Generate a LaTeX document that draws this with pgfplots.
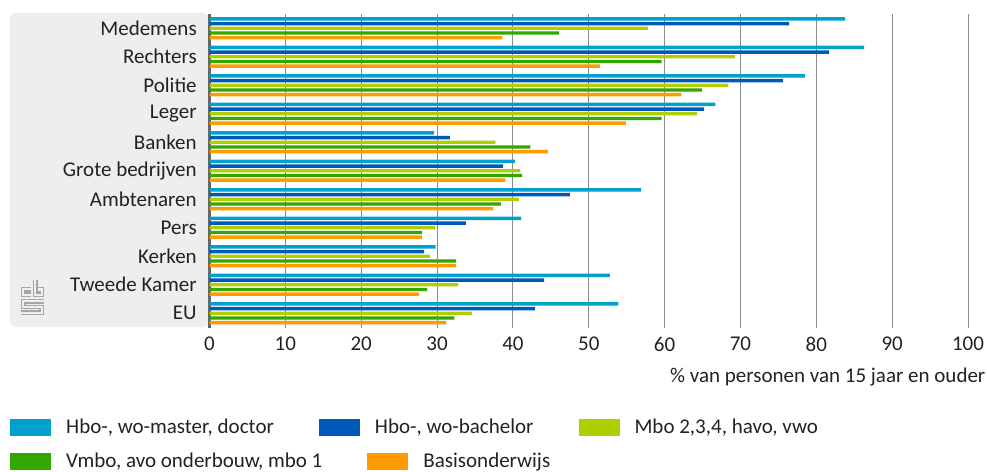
\documentclass[border=0pt]{standalone}
\usepackage{fontspec}
\setmainfont{Carlito}
\usepackage{pgfplots}
\usepackage{pgfplotstable}
\pgfplotsset{compat=1.18}
\definecolor{cmaster}{HTML}{00A1CD}
\definecolor{cbach}{HTML}{0058B8}
\definecolor{cmbo}{HTML}{AFCF00}
\definecolor{cvmbo}{HTML}{33A600}
\definecolor{cbasis}{HTML}{FF9B00}
\definecolor{ctext}{HTML}{222222}
\definecolor{cpanel}{HTML}{EEEEEE}

% Vertrouwen per instituut, naar onderwijsniveau
\pgfplotstableread{
idx master bachelor mbo vmbo basis
0 83.8 76.4 57.8 46.1 38.6
1 86.3 81.7 69.3 59.6 51.5
2 78.5 75.6 68.4 64.9 62.2
3 66.7 65.2 64.3 59.6 54.9
4 29.6 31.7 37.7 42.3 44.6
5 40.3 38.7 41.0 41.2 39.0
6 56.9 47.5 40.8 38.4 37.4
7 41.1 33.8 29.7 28.0 28.0
8 29.8 28.3 29.1 32.5 32.5
9 52.8 44.1 32.8 28.7 27.6
10 53.9 42.9 34.6 32.3 31.2
}\trustdata

\pgfplotsset{
    basis/.style={
        at={(209.5pt,143.5pt)},
        anchor=south west,
        scale only axis,
        width=758.5pt,
        height=313.5pt,
        xmin=0, xmax=100,
        ymin=-0.5, ymax=10.5,
        y dir=reverse,
        xbar,
        bar width=3.4pt,
        legend columns=-1,
        legend style={draw=none,fill=none,anchor=west,inner sep=0pt,
            font=\fontsize{21}{23}\selectfont,text=ctext,
            /tikz/every odd column/.append style={column sep=13pt},
            /tikz/every even column/.append style={column sep=43pt}},
        legend image code/.code={\fill[##1] (0pt,-8.5pt) rectangle (41pt,8.5pt);},
    },
}

\newcommand{\logopart}[1]{%
    \draw[draw=black!35,line width=4.6pt,miter limit=10] #1;
    \draw[draw=cpanel,line width=2.2pt,miter limit=10] #1;
}

\begin{document}
\begin{tikzpicture}[x=1pt,y=1pt]
\useasboundingbox (0,0) rectangle (987,471);
% grijs vlak achter de labels
\fill[fill=cpanel,rounded corners=6pt] (10,144) rectangle (209,458);
% cbs-logo
\logopart{(31,181.7) -- (23.3,181.7) -- (23.3,176.2) -- (31,176.2)}
\logopart{(35.3,191) -- (35.3,176.2) -- (41.7,176.2) -- (41.7,181.5) -- (38,181.5)}
\logopart{(44,169.7) -- (23.3,169.7) -- (23.3,164) -- (41.7,164) -- (41.7,158.3) -- (21,158.3)}
\begin{axis}[
    basis,
    axis y line*=left,
    axis x line*=bottom,
    x axis line style={draw=none},
    xtick={0,10,...,100},
    ytick={0,...,10},
    yticklabels={Medemens,Rechters,Politie,Leger,Banken,Grote bedrijven,Ambtenaren,Pers,Kerken,Tweede Kamer,EU},
    tick style={draw=none},
    xmajorgrids,
    grid style={draw=black!45,line width=1pt},
    y axis line style={draw=black!60,line width=3.5pt,-},
    tick label style={font=\fontsize{21}{23}\selectfont,text=ctext},
    /pgf/number format/assume math mode=true,
    yticklabel style={xshift=-5pt},
    xticklabel style={yshift=-6pt},
    xlabel={\% van personen van 15 jaar en ouder},
    xlabel style={font=\fontsize{21}{23}\selectfont,text=ctext,at={(axis description cs:1.0275,-0.118)},anchor=north east},
    legend style={at={(axis description cs:-0.263,-0.3175)}},
]
\addplot[fill=cmaster,draw=none,bar shift=9.4pt] table[x=master,y=idx] {\trustdata};
\addplot[fill=cbach,draw=none,bar shift=4.7pt] table[x=bachelor,y=idx] {\trustdata};
\addplot[fill=cmbo,draw=none,bar shift=0pt] table[x=mbo,y=idx] {\trustdata};
\legend{{Hbo-, wo-master, doctor},{Hbo-, wo-bachelor},{Mbo 2,3,4, havo, vwo}}
\end{axis}
% tweede as: de overige reeksen, met de tweede legendaregel
\begin{axis}[
    basis,
    hide axis,
    legend style={at={(axis description cs:-0.263,-0.426)}},
]
\addplot[fill=cvmbo,draw=none,bar shift=-4.7pt] table[x=vmbo,y=idx] {\trustdata};
\addplot[fill=cbasis,draw=none,bar shift=-9.4pt] table[x=basis,y=idx] {\trustdata};
\legend{{Vmbo, avo onderbouw, mbo 1},{Basisonderwijs}}
\end{axis}
\end{tikzpicture}
\end{document}
